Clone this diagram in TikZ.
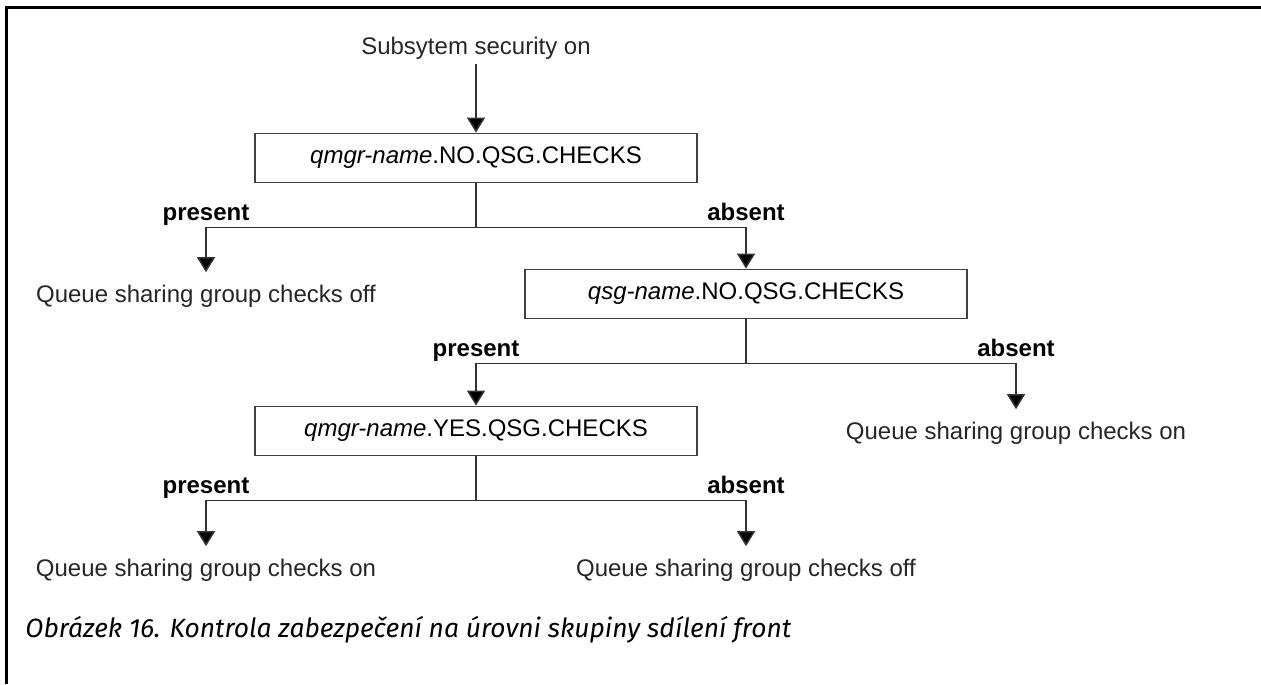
\documentclass[tikz,border=0pt]{standalone}
\usepackage{fontspec}
\setmainfont{Liberation Sans}
\newfontfamily\capfont{Fira Sans}
\usepackage{tikz}
\usetikzlibrary{positioning, arrows.meta}

\begin{document}
\begin{tikzpicture}[
  x=0.5pt, y=-0.5pt,
  font=\fontsize{12}{14}\selectfont,
  wire/.style={draw=black!80, line width=0.75pt},
  arr/.style={wire, -{Triangle[width=9pt, length=7.5pt, fill=black]}},
  check/.style={draw=black!75, line width=0.9pt, minimum width=221pt,
                minimum height=24.5pt, inner sep=0pt},
  res/.style={anchor=base, inner xsep=0pt, inner ysep=6pt, text=black!85},
  ans/.style={font=\fontsize{12}{14}\selectfont\bfseries, anchor=base,
              inner sep=0pt, yshift=3.5pt},
]
  % 1 unit = 1 pixel of the 1261 x 684 page, y grows downwards
  \useasboundingbox (0,0) rectangle (1261,684);

  % open frame (top and left only)
  \draw[line width=1.5pt] (6,684) -- (6,8) -- (1261,8);

  % start and the three profile checks
  \node[res, inner ysep=2pt] (start) at (476,55) {Subsytem security on};
  \node[check] (nqmgr) at (476,158) {\textit{qmgr-name}.NO.QSG.CHECKS};
  \node[check] (nqsg)  at (746,294) {\textit{qsg-name}.NO.QSG.CHECKS};
  \node[check] (yqmgr) at (476,431) {\textit{qmgr-name}.YES.QSG.CHECKS};

  % outcomes
  \node[res] (off1) at (206,302)  {Queue sharing group checks off};
  \node[res] (on1)  at (1016,439) {Queue sharing group checks on};
  \node[res] (on2)  at (206,576)  {Queue sharing group checks on};
  \node[res] (off2) at (746,576)  {Queue sharing group checks off};

  \draw[arr] (start) -- (nqmgr);

  % each check splits: present to the left, absent to the right
  \foreach \b/\l/\r in {nqmgr/off1/nqsg, nqsg/yqmgr/on1, yqmgr/on2/off2} {
    \draw[wire] (\b.south) -- ++(0,44) coordinate (\b-j);
    \draw[arr] (\b-j) -| node[ans, pos=0.5] (\b-p) {present} (\l);
    \draw[arr] (\b-j) -| node[ans, pos=0.5] (\b-a) {absent} (\r);
  }

  % caption
  \node[anchor=base west, inner sep=0pt,
        font=\capfont\itshape\fontsize{13.2}{15}\selectfont] (cap) at (25,637)
    {Obrázek 16. Kontrola zabezpečení na úrovni skupiny sdílení front};
\end{tikzpicture}
\end{document}
